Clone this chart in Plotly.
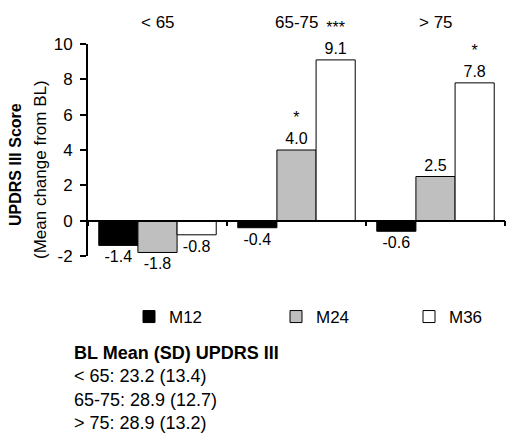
import plotly.graph_objects as go

# ---- data ----
age_groups = ["< 65", "65-75", "> 75"]
series_names = ["M12", "M24", "M36"]
m12 = [-1.4, -0.4, -0.6]
m24 = [-1.8, 4.0, 2.5]
m36 = [-0.8, 9.1, 7.8]
m12_sig = ["", "", ""]
m24_sig = ["", "*", ""]
m36_sig = ["", "***", "*"]
bl_title = "BL Mean (SD) UPDRS III"
bl_mean = [23.2, 28.9, 28.9]
bl_sd = [13.4, 12.7, 13.2]
y_ticks = [-2, 0, 2, 4, 6, 8, 10]

# ---- style ----
FONT = "Liberation Sans, Arial, sans-serif"
colors = ["#000000", "#BFBFBF", "#FFFFFF"]
legends = ["legend", "legend2", "legend3"]

W, H = 506, 434
ML, MR, MT, MB = 88, 1, 44, 178
PW, PH = W - ML - MR, H - MT - MB


def labels(vals, sig):
    out = []
    for v, s in zip(vals, sig):
        t = f"{v:.1f}"
        out.append(f"{s}<br>{t}" if s else t)
    return out


fig = go.Figure()
for name, vals, sig, col, lg in zip(series_names, [m12, m24, m36],
                                    [m12_sig, m24_sig, m36_sig], colors, legends):
    fig.add_trace(go.Bar(
        x=age_groups, y=vals, name=name,
        marker=dict(color=col, line=dict(color="#000000", width=1)),
        text=labels(vals, sig), textposition="outside",
        textfont=dict(family=FONT, size=16, color="#000000"),
        constraintext="none", cliponaxis=False,
        legend=lg, hoverinfo="skip",
    ))

ymin, ymax = -2, 10
fig.update_layout(
    width=W, height=H,
    margin=dict(l=ML, r=MR, t=MT, b=MB),
    paper_bgcolor="white", plot_bgcolor="white",
    barmode="group", bargap=0.155, bargroupgap=0,
    font=dict(family=FONT, size=17, color="#000000"),
    showlegend=True,
    xaxis=dict(
        type="category", range=[-0.5, 2.5],
        showline=True, linecolor="#000000", linewidth=1.5,
        ticks="outside", ticklen=5, tickwidth=1.5, tickcolor="#000000",
        tickson="boundaries", showticklabels=False, showgrid=False,
        zeroline=False, anchor="free", position=(0 - ymin) / (ymax - ymin),
    ),
    yaxis=dict(
        range=[ymin, ymax], tickvals=y_ticks, ticktext=[str(t) for t in y_ticks],
        showline=True, linecolor="#000000", linewidth=2,
        ticks="outside", ticklen=6, tickwidth=1.5, tickcolor="#000000",
        tickfont=dict(size=17), showgrid=False, zeroline=False,
        ticklabelstandoff=4,
    ),
)

leg_x = [129, 276, 409]
for lg, lx in zip(legends, leg_x):
    fig.update_layout({lg: dict(
        xref="container", yref="container", x=lx / W, y=1 - 317 / H,
        xanchor="left", yanchor="middle", orientation="h",
        font=dict(size=17), bgcolor="rgba(0,0,0,0)", borderwidth=0,
    )})

# category labels on top
for g in age_groups:
    fig.add_annotation(x=g, y=1, xref="x", yref="paper", text=g,
                       showarrow=False, yanchor="middle", yshift=22,
                       font=dict(size=17))

# y title
fig.add_annotation(x=(15 - ML) / PW, y=(256 - 165) / PH, xref="paper", yref="paper",
                   text="<b>UPDRS III Score</b>", textangle=-90, showarrow=False,
                   xanchor="center", yanchor="middle", font=dict(size=16))
fig.add_annotation(x=(40 - ML) / PW, y=(256 - 170) / PH, xref="paper", yref="paper",
                   text="(Mean change from BL)", textangle=-90, showarrow=False,
                   xanchor="center", yanchor="middle", font=dict(size=17))

# baseline block
lines = [f"<b>{bl_title}</b>"] + [f"{g}: {m:.1f} ({s:.1f})" for g, m, s in zip(age_groups, bl_mean, bl_sd)]
fig.add_annotation(x=(72 - ML) / PW, y=(256 - 341) / PH, xref="paper", yref="paper",
                   text="<br>".join(lines), showarrow=False, align="left",
                   xanchor="left", yanchor="top", font=dict(size=18))

fig.write_html("out.html")
